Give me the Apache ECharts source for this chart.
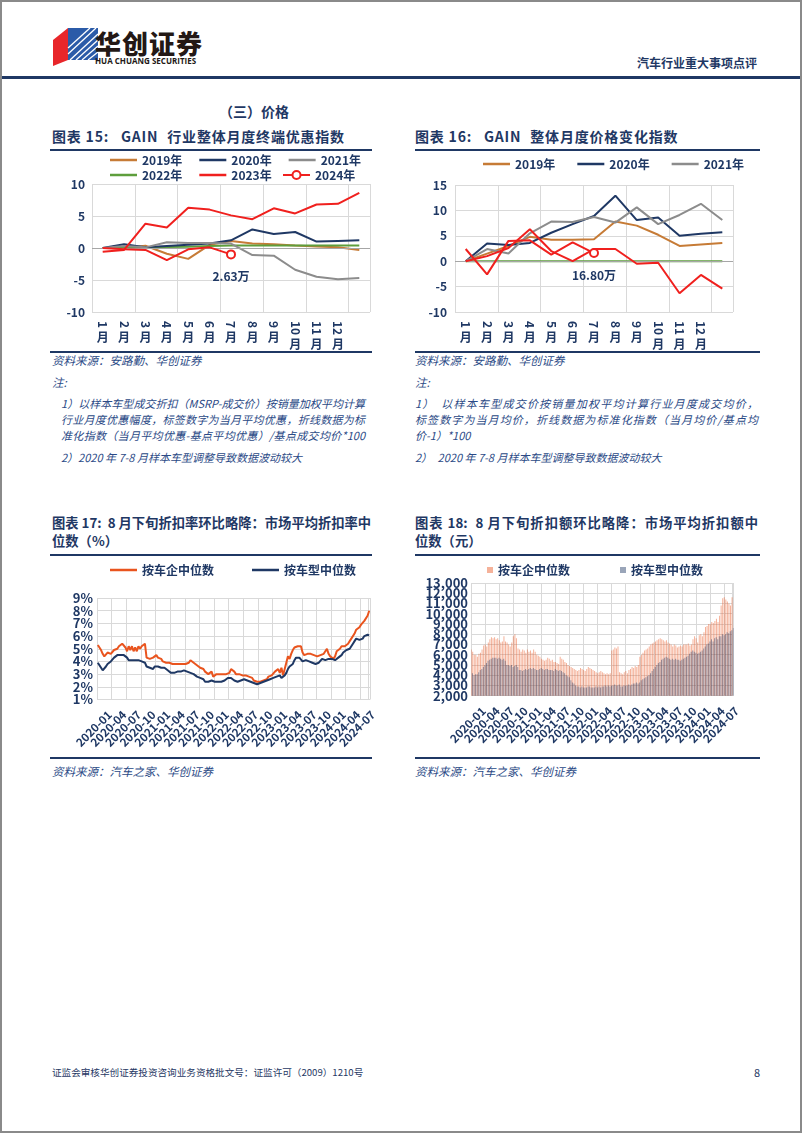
<!DOCTYPE html>
<html><head><meta charset="utf-8">
<script src="https://cdn.jsdelivr.net/npm/echarts@6/dist/echarts.min.js"></script>
<style>
html,body{margin:0;padding:0;background:#fff;}
body{width:802px;height:1133px;position:relative;overflow:hidden;font-family:"Noto Sans CJK SC","Noto Sans",sans-serif;}
.frame{position:absolute;left:0;top:0;width:802px;height:1133px;box-sizing:border-box;border:2px solid #8a8a8a;}
.t{position:absolute;white-space:nowrap;line-height:1;color:#1F3864;}
.ttl{font-size:14px;font-weight:bold;letter-spacing:0.8px;}
.ttl2{font-size:13.3px;font-weight:bold;}
.src{font-size:11.5px;font-style:italic;color:#2B4A86;}
.note{font-size:11px;font-style:italic;color:#2B4A86;text-align:justify;text-align-last:justify;}
.hl{position:absolute;background:#1F3864;}
.ch{position:absolute;}
</style></head>
<body>
<div class="frame"></div>
<svg style="position:absolute;left:50px;top:26px" width="52" height="42" viewBox="0 0 52 42">
  <polygon points="3,14 18,2 18,34 3,40" fill="#E8262A"/>
  <polygon points="18,2 48,2 48,34 18,34" fill="#2B5BA8"/>
  <g stroke="#fff" stroke-width="1.3">
    <line x1="20" y1="34" x2="48" y2="8"/><line x1="26" y1="34" x2="48" y2="14"/><line x1="32" y1="34" x2="48" y2="20"/><line x1="38" y1="34" x2="48" y2="26"/>
    <line x1="18" y1="28" x2="46" y2="2"/><line x1="18" y1="22" x2="40" y2="2"/>
  </g>
</svg>
<div class="t" style="left:95px;top:30px;font-size:26px;font-weight:900;color:#231815;letter-spacing:1px;">华创证券</div>
<div class="t" style="left:95px;top:57px;font-size:8px;font-weight:bold;color:#231815;font-family:'Open Sans','Noto Sans',sans-serif;">HUA CHUANG SECURITIES</div>
<div class="t" style="right:45px;top:57px;font-size:12px;font-weight:bold;">汽车行业重大事项点评</div>
<div class="hl" style="left:2px;top:76px;width:798px;height:3px;"></div>

<div class="t" style="left:219px;top:104px;font-size:14px;font-weight:bold;">（三）价格</div>

<div class="t ttl" style="left:52px;top:129px;">图表 15:<span style="margin-left:12px">GAIN</span><span style="margin-left:9px">行业整体月度终端优惠指数</span></div>
<div class="hl" style="left:50px;top:149px;width:322px;height:2px;"></div>
<div class="t ttl" style="left:415px;top:129px;">图表 16:<span style="margin-left:12px">GAIN</span><span style="margin-left:9px">整体月度价格变化指数</span></div>
<div class="hl" style="left:415px;top:149px;width:345px;height:2px;"></div>

<div id="c15" class="ch" style="left:40px;top:150px;width:340px;height:200px;"></div>
<div id="c16" class="ch" style="left:405px;top:150px;width:360px;height:200px;"></div>

<div class="hl" style="left:50px;top:351px;width:322px;height:2px;"></div>
<div class="hl" style="left:415px;top:351px;width:345px;height:2px;"></div>
<div class="t src" style="left:52px;top:355px;">资料来源：安路勤、华创证券</div>
<div class="t src" style="left:415px;top:355px;">资料来源：安路勤、华创证券</div>
<div class="t src" style="left:52px;top:377px;">注:</div>
<div class="t src" style="left:415px;top:377px;">注:</div>

<div class="t note" style="left:61px;top:398px;width:304px;">1）以样本车型成交折扣（MSRP-成交价）按销量加权平均计算</div>
<div class="t note" style="left:61px;top:414px;width:304px;">行业月度优惠幅度，标签数字为当月平均优惠，折线数据为标</div>
<div class="t note" style="left:61px;top:430px;width:304px;">准化指数（当月平均优惠-基点平均优惠）/基点成交均价*100</div>
<div class="t src" style="left:61px;top:452px;font-size:11px;">2）2020 年 7-8 月样本车型调整导致数据波动较大</div>

<div class="t note" style="left:415px;top:398px;width:343px;">1）　以样本车型成交价按销量加权平均计算行业月度成交均价，</div>
<div class="t note" style="left:415px;top:414px;width:343px;">标签数字为当月均价，折线数据为标准化指数（当月均价/基点均</div>
<div class="t src" style="left:415px;top:430px;font-size:11px;">价-1）*100</div>
<div class="t src" style="left:415px;top:452px;font-size:11px;">2）　2020 年 7-8 月样本车型调整导致数据波动较大</div>

<div class="t ttl2" style="left:52px;top:516px;width:313px;text-align:justify;text-align-last:justify;">图表 17:&nbsp; 8 月下旬折扣率环比略降：市场平均折扣率中</div>
<div class="t ttl2" style="left:52px;top:534px;">位数（%）</div>
<div class="hl" style="left:50px;top:554px;width:322px;height:2px;"></div>
<div class="t ttl2" style="left:415px;top:516px;width:343px;text-align:justify;text-align-last:justify;">图表 18:&nbsp; 8 月下旬折扣额环比略降：市场平均折扣额中</div>
<div class="t ttl2" style="left:415px;top:534px;">位数（元）</div>
<div class="hl" style="left:415px;top:554px;width:345px;height:2px;"></div>

<div id="c17" class="ch" style="left:40px;top:560px;width:340px;height:195px;"></div>
<div id="c18" class="ch" style="left:405px;top:560px;width:360px;height:195px;"></div>

<div class="hl" style="left:50px;top:757px;width:322px;height:2px;"></div>
<div class="hl" style="left:415px;top:757px;width:345px;height:2px;"></div>
<div class="t src" style="left:52px;top:766px;">资料来源：汽车之家、华创证券</div>
<div class="t src" style="left:415px;top:766px;">资料来源：汽车之家、华创证券</div>

<div class="t" style="left:52px;top:1068px;font-size:9.6px;">证监会审核华创证券投资咨询业务资格批文号：证监许可（2009）1210号</div>
<div class="t" style="left:754px;top:1067px;font-size:11px;">8</div>

<script>
// ---------- Data: charts 15 & 16 (monthly index) ----------
var monthNums = ['1','2','3','4','5','6','7','8','9','10','11','12',''];
var yearNames = ['2019年','2020年','2021年','2022年','2023年','2024年'];

var disc2019 = [0, 0, 0.35, -0.9, -1.7, 0.5, 1.1, 0.7, 0.6, 0.4, 0.25, 0.1, -0.3];
var disc2020 = [0, 0.6, 0.1, 0.3, 0.5, 0.7, 1.2, 2.9, 2.2, 2.5, 1.0, 1.1, 1.2];
var disc2021 = [0, 0.3, 0.1, 0.9, 0.8, 0.8, 0.7, -1.1, -1.2, -3.4, -4.5, -4.9, -4.7];
var disc2022 = [0, 0.05, 0.1, 0.15, 0.2, 0.3, 0.4, 0.4, 0.4, 0.4, 0.4, 0.4, 0.4];
var disc2023 = [-0.6, -0.3, 3.8, 3.2, 6.3, 6.0, 5.1, 4.5, 6.2, 5.4, 6.8, 6.9, 8.6];
var disc2024 = [0, -0.2, -0.3, -1.9, -0.2, 0.1, -1.0];
var disc2024Label = '2.63万';

var price2019 = [0, 1.5, 3.0, 4.8, 4.2, 4.2, 4.3, 7.8, 7.0, 5.2, 3.0, 3.3, 3.6];
var price2020 = [0, 3.5, 3.2, 3.6, 5.6, 7.3, 8.9, 12.9, 8.1, 8.6, 5.0, 5.4, 5.7];
var price2021 = [0, 2.4, 1.5, 5.5, 7.8, 7.7, 8.7, 7.6, 10.6, 7.3, 9.1, 11.3, 8.1];
var price2022 = [0, 0, 0, 0, 0, 0, 0, 0, 0, 0, 0, 0, 0];
var price2023 = [0, 1.0, 2.6, 6.3, 2.0, 0.0, 2.4, 2.4, -0.5, -0.3, -6.3, -2.7, -5.4];
var price2024 = [2.4, -2.6, 4.0, 4.1, 1.3, 3.7, 1.6];
var price2024Label = '16.80万';

// ---------- Data: charts 17 & 18 (three readings per month, 2020-01 .. 2024-08) ----------
var firstYear = 2020, monthCount = 56;
var periodLabels = [];
for (var m = 0; m < monthCount; m++) {
  var y = firstYear + Math.floor(m / 12), mm = m % 12 + 1;
  var s = y + '-' + (mm < 10 ? '0' + mm : '' + mm);
  periodLabels.push(s, s, s);
}
var seriesNames = ['按车企中位数', '按车型中位数'];

var rateByMaker = [5.3,5.1,4.9, 4.6,4.4,4.5, 4.7,4.8,4.6, 4.7,4.9,4.8, 5.0,5.2,5.3, 5.4,5.3,5.1, 4.8,5.2,4.9, 5.2,4.8,5.1, 4.8,5.2,5.0, 5.2,5.3,5.4,
 4.3,4.2,4.2, 4.2,4.3,4.2, 4.5,4.3,4.4, 4.2,4.0,4.0, 3.9,3.9,3.9, 3.8,3.8,3.9, 3.8,3.8,3.8, 3.9,3.8,3.9, 3.8,3.8,3.9, 4.1,4.0,3.9,
 3.8,3.7,3.6, 3.5,3.5,3.4, 3.2,3.1,3.0, 2.9,3.2,2.8, 2.9,3.0,3.0, 3.0,3.0,3.0, 3.0,3.0,3.1, 3.1,3.4,3.4, 3.2,3.0,3.0, 3.0,3.0,2.9,
 3.0,2.9,2.8, 2.8,2.9,2.7, 2.5,2.5,2.4, 2.4,2.4,2.4, 2.5,2.6,2.6, 2.8,2.7,2.9, 3.0,3.2,3.1, 3.4,3.1,3.5, 2.9,3.4,3.9, 4.4,4.2,4.6,
 4.9,5.1,5.0, 5.2,5.3,5.2, 4.7,4.5,4.6, 4.6,4.7,4.6, 4.5,4.5,4.6, 4.4,4.4,4.5, 4.5,4.6,4.5, 5.0,4.6,4.4, 4.3,4.2,4.4, 4.8,4.9,5.0,
 5.2,5.1,5.2, 5.3,5.4,5.6, 5.8,5.9,6.2, 6.5,6.5,6.7, 6.9,7.0,7.2, 7.2,7.6,8.0];
var rateByModel = [3.9,3.7,3.5, 3.3,3.3,3.6, 3.8,3.9,4.0, 4.1,4.3,4.4, 4.5,4.5,4.5, 4.5,4.5,4.4, 4.3,4.1,4.1, 4.1,4.1,4.1, 4.1,4.1,4.0, 4.0,3.9,3.9,
 3.6,3.5,3.5, 3.5,3.4,3.6, 3.6,3.6,3.5, 3.5,3.5,3.5, 3.4,3.3,3.2, 3.1,3.1,3.1, 3.1,3.2,3.3, 3.2,3.3,3.3, 3.3,3.2,3.3, 3.1,3.0,3.0,
 2.9,2.8,2.8, 2.7,2.7,2.6, 2.4,2.3,2.4, 2.5,2.5,2.4, 2.4,2.5,2.4, 2.4,2.4,2.5, 2.5,2.6,2.7, 2.7,2.7,2.6, 2.5,2.5,2.4, 2.5,2.5,2.6,
 2.6,2.5,2.5, 2.4,2.4,2.3, 2.3,2.2,2.2, 2.3,2.3,2.4, 2.4,2.5,2.5, 2.6,2.6,2.7, 2.7,2.7,2.8, 2.8,2.9,2.7, 2.6,2.9,3.1, 3.4,3.6,3.7,
 3.8,4.1,4.3, 4.2,4.3,4.2, 4.0,4.0,4.1, 4.1,4.0,4.0, 3.9,3.9,3.8, 3.8,3.9,4.0, 4.2,4.1,4.1, 4.2,4.2,4.2, 4.2,4.1,4.1, 4.2,4.3,4.4,
 4.5,4.7,4.8, 4.9,5.0,5.0, 5.2,5.4,5.6, 5.8,5.8,5.7, 5.7,5.8,6.0, 6.0,6.1,6.05];

var amtByMaker = [6500,6300,6000, 6000,5800,6100, 6200,6500,6900, 7000,6800,7200, 7500,7700,7600, 7700,7500,7600, 7400,7200,7300, 7800,7300,7200, 7000,6800,7200, 7800,8000,7600,
 6600,6500,6300, 6500,6400,6200, 6500,6300,6400, 6200,6500,6300, 6000,5900,5800, 5600,5500,5400, 5500,5700,5600, 5400,5500,5300, 5300,5200,5100, 5800,5600,5500,
 5300,5200,5000, 4900,4800,4700, 4600,4500,4400, 4500,4700,4600, 4500,4400,4600, 4800,4700,4600, 4500,4400,4300, 4200,4300,4400, 4300,4200,4100, 4200,4100,4200,
 6400,6500,6700, 6600,6800,4300, 4200,4100,4300, 4400,4200,4500, 4600,4800,4700, 4900,4800,5000, 5800,6000,6200, 6400,6500,6600, 6800,7000,7100, 7200,7300,7400,
 7500,7600,7500, 7400,7300,7400, 7200,7100,7000, 6800,7000,6900, 6700,6800,6900, 6800,7000,7000, 7000,7100,6900, 7000,7500,7800, 7600,7200,7900, 8000,7800,8200,
 8700,8800,9000, 9000,9200,9100, 9300,9500,9200, 9800,10800,11500, 11600,11400,11200, 11000,10800,11600];
var amtByModel = [4200,4000,4100, 4100,4300,4500, 4600,4800,5000, 5200,5400,5500, 5600,5700,5700, 5700,5600,5700, 5600,5500,5600, 5400,5000,5000, 4900,5000,4800, 4900,5000,4800,
 4500,4500,4400, 4500,4600,4500, 4600,4700,4600, 4700,4600,4500, 4500,4600,4700, 4600,4500,4600, 4600,4500,4500, 4500,4400,4600, 4500,4400,4500, 4400,4300,4200,
 4000,3900,3800, 3500,3300,3200, 3000,2900,2900, 2800,2900,2800, 2800,2800,2900, 2900,2800,2800, 2800,2900,2800, 2900,2800,2900, 2900,3000,2900, 3000,2900,3000,
 3000,3100,3000, 3000,3100,2900, 2900,3000,3000, 3000,3100,3000, 3100,3200,3200, 3300,3200,3300, 3500,3600,3700, 3800,3900,4000, 4200,4400,4600, 4800,5000,5200,
 5300,5500,5600, 5700,5800,5700, 5600,5500,5600, 5500,5600,5500, 5500,5400,5500, 5600,5700,5800, 5900,6100,6300, 6400,6300,6200, 6100,6200,6300, 6400,6600,6800,
 7000,7100,7300, 7500,7300,7600, 7700,7500,7800, 7800,8000,7900, 8000,8200,8100, 8300,8400,8600];

// ---------- Styles ----------
var NAVY = '#1F3864';
var FONT = '"Noto Sans CJK SC","Noto Sans",sans-serif';
var yearColors = ['#C67B36', '#1F3864', '#8C8C8C', '#5E9E3C', '#F0201E', '#F0201E'];
var GRID = '#D9D9D9';
var txt = function (size) { return { color: NAVY, fontWeight: 'bold', fontSize: size, fontFamily: FONT }; };

function monthAxes() {
  return [
    { type: 'category', data: monthNums, boundaryGap: true,
      axisLine: { show: false }, axisTick: { show: false },
      axisLabel: Object.assign({ interval: 0, rotate: -90, margin: 9 }, txt(12)),
      splitLine: { show: true, interval: 1, lineStyle: { color: GRID } } },
    { type: 'category', data: monthNums, boundaryGap: true, position: 'bottom',
      axisLine: { show: false }, axisTick: { show: false }, splitLine: { show: false },
      axisLabel: { interval: 0, margin: 19,
        formatter: function (v) { return v === '' ? '' : (v.length > 1 ? '{b|月}' : '{a|月}'); },
        rich: { a: txt(12), b: Object.assign({ padding: [7, 0, 0, 0] }, txt(12)) } } }
  ];
}
function yearSeries(arrs, lastLabel) {
  return arrs.map(function (arr, k) {
    var isLast = k === 5;
    var data = arr.map(function (v, i) {
      if (isLast && i === arr.length - 1) {
        return { value: v, label: Object.assign({ show: true, position: 'bottom', distance: 11, formatter: lastLabel }, txt(12)) };
      }
      return v;
    });
    var s = { name: yearNames[k], type: 'line', data: data, xAxisIndex: 0,
      lineStyle: { width: 2, color: yearColors[k] }, itemStyle: { color: yearColors[k] },
      symbol: 'none', z: 2 + (k === 3 ? 0 : k) };
    if (isLast) {
      s.symbol = 'emptyCircle';
      s.symbolSize = function (val, p) { return p.dataIndex === arr.length - 1 ? 8 : 0; };
      s.itemStyle = { color: yearColors[k], borderWidth: 2 };
    }
    if (k === 0) {
      s.markLine = { silent: true, symbol: 'none', label: { show: false },
        lineStyle: { color: '#A6A6A6', width: 1, type: 'solid' }, data: [{ yAxis: 0 }] };
    }
    return s;
  });
}
function legendCfg(names, left, top, gap, plain) {
  var l = { data: names, left: left, top: top, padding: 0, itemWidth: 27, itemHeight: plain ? 2.5 : 10, itemGap: gap,
    textStyle: txt(12) };
  if (plain) l.icon = 'rect';
  return l;
}
function yAxisCfg(min, max, interval, margin) {
  return { type: 'value', min: min, max: max, interval: interval,
    axisLine: { show: false }, axisTick: { show: false },
    axisLabel: Object.assign({ margin: margin }, txt(12)),
    splitLine: { show: true, lineStyle: { color: GRID } } };
}
// Two overlaid value axes: the first keeps the end labels, the second shows the labels next to them,
// so that no tick label is auto-hidden when the labels are tightly packed.
function valueAxisPair(min, max, interval, fmt, size, margin) {
  var inner = function (v) { return v === min + interval || v === max - interval; };
  var base = { type: 'value', min: min, max: max, interval: interval, position: 'left',
    axisLine: { show: false }, axisTick: { show: false } };
  return [
    Object.assign({}, base, {
      axisLabel: Object.assign({ margin: margin, showMinLabel: true, showMaxLabel: true,
        formatter: function (v) { return inner(v) ? '' : fmt(v); } }, txt(size)),
      splitLine: { show: true, lineStyle: { color: GRID } } }),
    Object.assign({}, base, {
      axisLabel: Object.assign({ margin: margin,
        formatter: function (v) { return inner(v) ? fmt(v) : ''; } }, txt(size)),
      splitLine: { show: false } })
  ];
}

// Chart 15
var c15 = echarts.init(document.getElementById('c15'));
c15.setOption({
  animation: false,
  legend: [legendCfg(yearNames.slice(0, 3), 70, 4, 17, true),
           legendCfg(yearNames.slice(3, 5), 70, 19, 17, true),
           legendCfg(yearNames.slice(5, 6), 242, 19, 17, false)],
  grid: { left: 52, top: 34, width: 278, height: 129 },
  xAxis: monthAxes(),
  yAxis: yAxisCfg(-10, 10, 5, 7),
  series: yearSeries([disc2019, disc2020, disc2021, disc2022, disc2023, disc2024], disc2024Label)
});

// Chart 16
var c16 = echarts.init(document.getElementById('c16'));
c16.setOption({
  animation: false,
  legend: [legendCfg(yearNames.slice(0, 3), 78, 8, 22, true)],
  grid: { left: 50, top: 35, width: 278, height: 127 },
  xAxis: monthAxes(),
  yAxis: yAxisCfg(-10, 15, 5, 8),
  series: yearSeries([price2019, price2020, price2021, price2022, price2023, price2024], price2024Label)
});

var LABEL_EVERY = 9, lastIdx = periodLabels.length - 1;
function periodAxis() {
  return { type: 'category', data: periodLabels, boundaryGap: true,
    axisLine: { show: false }, axisTick: { show: false },
    axisLabel: Object.assign({
      interval: function (i) { return i % LABEL_EVERY === 0 || i === 1 || i === lastIdx - 1 || i === lastIdx; },
      formatter: function (v, i) { return i % LABEL_EVERY === 0 ? v : ''; },
      showMinLabel: true, showMaxLabel: true,
      rotate: 45, margin: 33, align: 'center', verticalAlign: 'bottom' }, txt(11.5)),
    splitLine: { show: true, interval: LABEL_EVERY - 1, lineStyle: { color: GRID } } };
}

// Chart 17
var c17 = echarts.init(document.getElementById('c17'));
c17.setOption({
  animation: false,
  legend: { data: seriesNames, left: 70, top: 4, padding: 0, icon: 'rect', itemWidth: 27, itemHeight: 2.5, itemGap: 38, textStyle: txt(12) },
  grid: { left: 57, top: 38, width: 273, height: 101.5 },
  xAxis: periodAxis(),
  yAxis: valueAxisPair(1, 9, 1, function (v) { return v + '%'; }, 13, 4),
  series: [
    { name: seriesNames[0], type: 'line', data: rateByMaker, symbol: 'none', lineStyle: { width: 2, color: '#E9541E' }, itemStyle: { color: '#E9541E' } },
    { name: seriesNames[1], type: 'line', data: rateByModel, symbol: 'none', lineStyle: { width: 2, color: NAVY }, itemStyle: { color: NAVY } }
  ]
});

// Chart 18
var c18 = echarts.init(document.getElementById('c18'));
c18.setOption({
  animation: false,
  legend: { data: seriesNames, left: 82, top: 4, padding: 0, icon: 'rect', itemWidth: 6, itemHeight: 6, itemGap: 50, textStyle: txt(12) },
  grid: { left: 66, top: 23, width: 262.5, height: 112.7 },
  xAxis: periodAxis(),
  yAxis: valueAxisPair(2000, 13000, 1000, function (v) { return v.toLocaleString('en-US'); }, 13, 3),
  series: [
    { name: seriesNames[0], type: 'bar', data: amtByMaker, barWidth: 0.45, barGap: '30%', itemStyle: { color: '#E9541E', opacity: 0.45 } },
    { name: seriesNames[1], type: 'bar', data: amtByModel, barWidth: 0.45, itemStyle: { color: NAVY, opacity: 0.45 } }
  ]
});
</script>
</body></html>
